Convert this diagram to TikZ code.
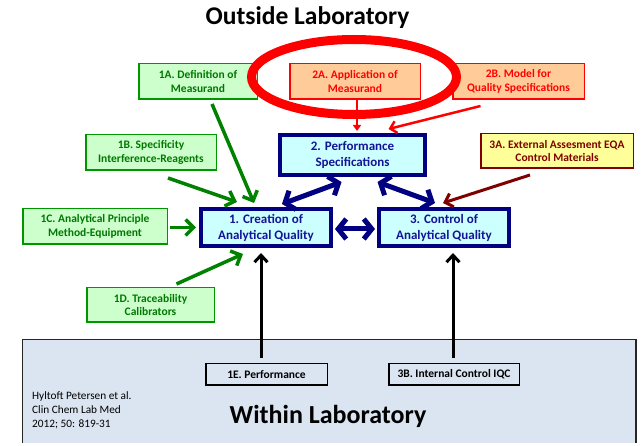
\documentclass[tikz,border=0pt]{standalone}
\usepackage{fontspec}
\setmainfont{Carlito}
\usetikzlibrary{arrows.meta}
\definecolor{gfill}{RGB}{204,255,204}
\definecolor{gline}{RGB}{0,150,0}
\definecolor{gtext}{RGB}{0,120,0}
\definecolor{garrow}{RGB}{0,130,0}
\definecolor{rfill}{RGB}{255,204,153}
\definecolor{rline}{RGB}{255,0,0}
\definecolor{yfill}{RGB}{255,255,153}
\definecolor{dred}{RGB}{128,0,0}
\definecolor{navy}{RGB}{0,0,128}
\definecolor{navytext}{RGB}{20,20,150}
\definecolor{mfill}{RGB}{204,255,255}
\definecolor{pfill}{RGB}{219,229,241}
\tikzset{
  smallbox/.style={draw, line width=1.5pt, rectangle, inner sep=0pt, align=center,
    font=\bfseries\fontsize{11.5}{13.3}\selectfont},
  greenbox/.style={smallbox, draw=gline, fill=gfill, text=gtext},
  redbox/.style={smallbox, draw=rline, fill=rfill, text=rline},
  yellowbox/.style={smallbox, draw=dred, fill=yfill, text=dred},
  mainbox/.style={draw=navy, line width=4pt, fill=mfill, text=navytext, rectangle,
    inner sep=0pt, align=center, minimum width=130pt, minimum height=37pt,
    font=\bfseries\fontsize{13}{16}\selectfont},
  labbox/.style={draw=black, line width=1.5pt, fill=pfill, rectangle, inner sep=0pt,
    minimum height=21.5pt, font=\bfseries\fontsize{11.5}{13}\selectfont},
  garr/.style={draw=garrow, line width=3.5pt, -{Straight Barb[length=8pt,width=16pt]}},
  navarr/.style={draw=navy, line width=5pt, {Straight Barb[length=8pt,width=20pt]}-{Straight Barb[length=8pt,width=20pt]}},
  redarr/.style={draw=rline, line width=2.5pt, -{Triangle[length=6pt,width=8pt]}},
  redbarb/.style={draw=rline, line width=2.5pt, -{Straight Barb[length=6pt,width=12pt]}},
  darr/.style={draw=dred, line width=3pt, -{Straight Barb[length=7pt,width=14pt]}},
  barr/.style={draw=black, line width=3pt, -{Straight Barb[length=7pt,width=13pt]}}
}
\begin{document}
\begin{tikzpicture}[x=1pt,y=-1pt]
\useasboundingbox (0,0) rectangle (641,446);
\fill[white] (0,0) rectangle (641,446);

% bottom panel
\fill[pfill] (22.5,339.5) rectangle (636,443);
\draw[line width=1.5pt, black!85] (22.5,443) -- (22.5,339.5) -- (636,339.5) -- (636,443);

% titles
\node[anchor=base, font=\bfseries\fontsize{25.5}{28}\selectfont] (out) at (307.5,25) {Outside Laboratory};
\node[anchor=base, font=\bfseries\fontsize{26}{28}\selectfont] (within) at (328,424) {Within Laboratory};
\node[anchor=west, align=left, inner sep=0pt, font=\fontsize{11.3}{14}\selectfont] (cite) at (32,410)
  {Hyltoft Petersen et al.\\Clin Chem Lab Med\\2012; 50: 819-31};

% green boxes
\node[greenbox, minimum width=118.5pt, minimum height=35.5pt] (n1a) at (198,81.5) {1A. Definition of\\Measurand};
\node[greenbox, minimum width=130.5pt, minimum height=35.5pt] (n1b) at (151,152.5) {1B. Specificity\\Interference-Reagents};
\node[greenbox, minimum width=144.5pt, minimum height=35.5pt] (n1c) at (95,226.5) {1C. Analytical Principle\\Method-Equipment};
\node[greenbox, minimum width=127.5pt, minimum height=34.5pt] (n1d) at (150.5,305) {1D. Traceability\\Calibrators};

% red boxes
\node[redbox, minimum width=130.5pt, minimum height=35.5pt] (n2a) at (355,81.5) {2A. Application of\\Measurand};
\node[redbox, minimum width=131.5pt, minimum height=35.5pt] (n2b) at (518.5,81.5) {2B. Model for\\Quality Specifications};

% yellow box
\node[yellowbox, minimum width=152.5pt, minimum height=34.5pt] (n3a) at (557,151) {3A. External Assesment EQA\\Control Materials};

% main boxes
\node[mainbox, minimum width=145pt, minimum height=40pt] (b2) at (352.5,155) {2. Performance\\Specifications};
\node[mainbox] (b1) at (266,227.5) {1. Creation of\\Analytical Quality};
\node[mainbox] (b3) at (444,227.5) {3. Control of\\Analytical Quality};

% lab boxes
\node[labbox, minimum width=121.5pt] (n1e) at (266.5,374.5) {1E. Performance};
\node[labbox, minimum width=130.5pt] (n3b) at (454,374.5) {3B. Internal Control IQC};

% green arrows
\draw[garr] ([xshift=14pt,yshift=-4pt]n1a.south) -- ([xshift=-12pt,yshift=4pt]b1.north);
\draw[garr] ([xshift=17pt,yshift=-7pt]n1b.south) -- ([xshift=-29pt,yshift=5pt]b1.north);
\draw[garr] ([xshift=2pt,yshift=-1pt]n1c.east) -- ([xshift=-3pt]b1.west);
\draw[garr] ([xshift=26pt,yshift=3pt]n1d.north) -- ([xshift=-23pt,yshift=-6pt]b1.south);

% red arrows
\draw[redarr] ([xshift=2pt]n2a.south) -- ([xshift=4.5pt,yshift=2pt]b2.north);
\draw[redbarb] ([xshift=-38pt,yshift=-6pt]n2b.south) -- ([xshift=36pt,yshift=4pt]b2.north);

% dark red arrow
\draw[darr] ([xshift=-27pt,yshift=-6pt]n3a.south) -- ([xshift=-1pt,yshift=4pt]b3.north);

% navy double arrows
\draw[navarr] ([xshift=-11pt,yshift=-5pt]b2.south) -- ([xshift=16pt,yshift=3pt]b1.north);
\draw[navarr] ([xshift=25pt,yshift=-5pt]b2.south) -- ([xshift=-9pt,yshift=4pt]b3.north);
\draw[navarr] ([xshift=2pt,yshift=-1.5pt]b1.east) -- ([xshift=-2pt,yshift=-1.5pt]b3.west);

% black arrows
\draw[barr] ([xshift=-5.5pt,yshift=5pt]n1e.north) -- ([xshift=-5pt,yshift=-5pt]b1.south);
\draw[barr] ([xshift=-1pt,yshift=5pt]n3b.north) -- ([xshift=9pt,yshift=-5pt]b3.south);

% highlight ellipse
\draw[rline, line width=9pt] (354,77) ellipse [x radius=102.5, y radius=37.5];
\end{tikzpicture}
\end{document}
